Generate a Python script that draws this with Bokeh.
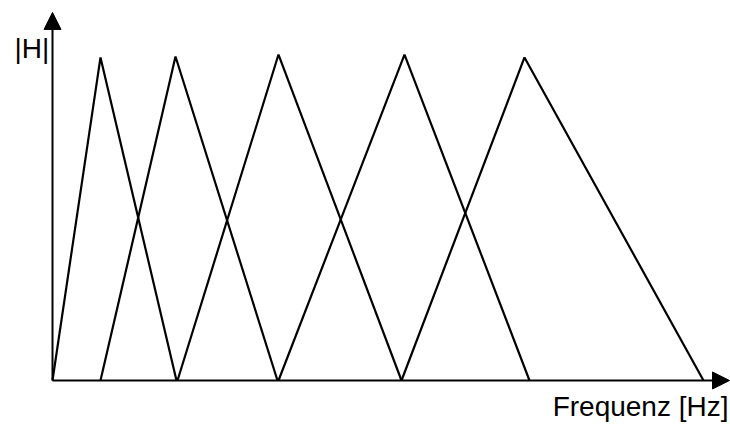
from bokeh.plotting import figure
from bokeh.models import Range1d, Arrow, NormalHead, Label
from bokeh.embed import file_html
from bokeh.resources import INLINE

# Triangular filter bank (arbitrary frequency units, origin at the y axis)
left_edges = [0, 48, 125, 226, 349]
centers = [48, 123, 226, 352, 472]
right_edges = [124, 225, 349, 477, 651]
peak_heights = [0.997, 1.0, 1.006, 1.006, 0.997]

x_label = "Frequenz [Hz]"
y_label = "|H|"

x_axis_end = 677
y_axis_end = 1.136

p = figure(width=730, height=425, output_backend="svg", toolbar_location=None,
           x_range=Range1d(-52, 678), y_range=Range1d(-0.1389, 1.1728),
           min_border=0)
p.axis.visible = False
p.grid.visible = False
p.outline_line_color = None
p.background_fill_color = "white"
p.border_fill_color = "white"

for l, c, r, h in zip(left_edges, centers, right_edges, peak_heights):
    p.line([l, c, r], [0, h, 0], line_color="black", line_width=2.2)

p.add_layout(Arrow(end=NormalHead(size=17, fill_color="black", fill_alpha=1.0,
                                  line_color="black", line_width=1),
                   x_start=0, y_start=0, x_end=x_axis_end, y_end=0,
                   line_color="black", line_width=2))
p.add_layout(Arrow(end=NormalHead(size=17, fill_color="black", fill_alpha=1.0,
                                  line_color="black", line_width=1),
                   x_start=0, y_start=0, x_end=0, y_end=y_axis_end,
                   line_color="black", line_width=2))

p.add_layout(Label(x=-38, y=1.025, text=y_label, text_font="Liberation Sans",
                   text_font_size="28px", text_color="black",
                   text_align="left", text_baseline="alphabetic"))
p.add_layout(Label(x=676, y=-0.080, text=x_label, text_font="Liberation Sans",
                   text_font_size="28px", text_color="black",
                   text_align="right", text_baseline="alphabetic"))

open("out.html", "w").write(file_html(p, INLINE))
